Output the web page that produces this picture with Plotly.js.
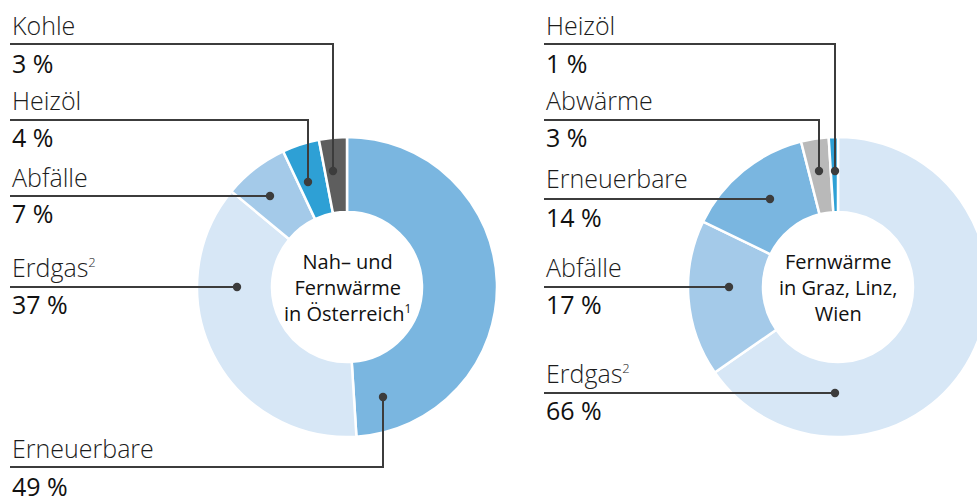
<!DOCTYPE html>
<html><head><meta charset="utf-8">
<script src="https://cdn.plot.ly/plotly-3.0.1.min.js"></script>
<style>html,body{margin:0;padding:0;overflow:hidden;background:#fff}#chart{width:1000px;height:499px}</style>
</head><body><div id="chart"></div>
<script>
// ---- data ----
const leftLabels = ['Erneuerbare', 'Erdgas<sup><span style="font-size:13px">2</span></sup>', 'Abfälle', 'Heizöl', 'Kohle'];
const leftValues = [49, 37, 7, 4, 3];
const leftColors = ['#7ab6e0', '#d7e7f6', '#a4cae9', '#2ea0d5', '#5e5e5e'];
const leftCenter = 'Nah– und<br>Fernwärme<br>in Österreich<sup><span style="font-size:12px">1</span></sup>';

const rightLabels = ['Erdgas<sup><span style="font-size:13px">2</span></sup>', 'Abfälle', 'Erneuerbare', 'Abwärme', 'Heizöl'];
const rightValues = [66, 17, 14, 3, 1];
const rightColors = ['#d7e7f6', '#a4cae9', '#7ab6e0', '#b9b9b9', '#2ea0d5'];
const rightCenter = 'Fernwärme<br>in Graz, Linz,<br>Wien';

// ---- layout geometry (pixels) ----
const W = 1000, H = 499;
const px = x => x / W, py = y => 1 - y / H;
const R = 150;
const leftC = [347, 287], rightC = [838, 287];

// callout config in same order as data: [nameBaseline, valueBaseline, lineY, elbowX, dotX, dotY]
const leftCallouts = [
  [458, 496, 467, 383, 383, 397],
  [277, 314, 287, 237, 237, 287],
  [187, 223, 196, 270, 270, 196],
  [110, 147, 120, 308, 308, 182],
  [35, 73, 44, 333, 333, 171]
];
const rightCallouts = [
  [383, 420, 393, 835, 835, 393],
  [277, 314, 287, 729, 729, 287],
  [188, 227, 199, 770, 770, 199],
  [110, 147, 120, 819, 819, 171],
  [35, 73, 44, 835, 835, 171]
];
const leftTextX = 10, rightTextX = 544;

function pieTrace(labels, values, colors, c) {
  return {
    type: 'pie', labels: labels, values: values, sort: false, direction: 'clockwise', rotation: 0,
    hole: 0.5, textinfo: 'none', hoverinfo: 'label+value',
    marker: {colors: colors, line: {color: '#ffffff', width: 2.5}},
    domain: {x: [px(c[0] - R), px(c[0] + R)], y: [py(c[1] + R), py(c[1] - R)]}
  };
}

const shapes = [], annotations = [];
const lineColor = '#3c3c3c';
const nameFont = {family: 'Open Sans, Segoe UI, sans-serif', size: 25, color: '#1c1c1c', weight: 300};
const valFont = {family: 'Open Sans, Segoe UI, sans-serif', size: 25, color: '#111111', weight: 400};

function addCallouts(labels, values, callouts, textX) {
  callouts.forEach((co, i) => {
    const [nb, vb, ly, ex, dx, dy] = co;
    shapes.push({type: 'path', xref: 'paper', yref: 'paper', layer: 'above',
      path: `M ${px(textX)},${py(ly)} L ${px(ex)},${py(ly)} L ${px(dx)},${py(dy)}`,
      line: {color: lineColor, width: 2}});
    const r = 4.2;
    shapes.push({type: 'circle', xref: 'paper', yref: 'paper', layer: 'above',
      x0: px(dx - r), x1: px(dx + r), y0: py(dy + r), y1: py(dy - r),
      fillcolor: lineColor, line: {width: 0}});
    annotations.push({xref: 'paper', yref: 'paper', x: px(textX), y: py(nb - 10), xanchor: 'left', yanchor: 'middle',
      text: labels[i], showarrow: false, font: nameFont});
    annotations.push({xref: 'paper', yref: 'paper', x: px(textX), y: py(vb - 10), xanchor: 'left', yanchor: 'middle',
      text: values[i] + ' %', showarrow: false, font: valFont});
  });
}
addCallouts(leftLabels, leftValues, leftCallouts, leftTextX);
addCallouts(rightLabels, rightValues, rightCallouts, rightTextX);

const centerFont = {family: 'Open Sans, Segoe UI, sans-serif', size: 20, color: '#111111', weight: 400};
annotations.push({xref: 'paper', yref: 'paper', x: px(leftC[0]), y: py(leftC[1]), xanchor: 'center', yanchor: 'middle',
  text: leftCenter, showarrow: false, font: centerFont, align: 'center'});
annotations.push({xref: 'paper', yref: 'paper', x: px(rightC[0]), y: py(rightC[1]), xanchor: 'center', yanchor: 'middle',
  text: rightCenter, showarrow: false, font: centerFont, align: 'center'});

Plotly.newPlot('chart', [
  pieTrace(leftLabels, leftValues, leftColors, leftC),
  pieTrace(rightLabels, rightValues, rightColors, rightC)
], {
  width: W, height: H, margin: {l: 0, r: 0, t: 0, b: 0}, showlegend: false,
  paper_bgcolor: '#ffffff', plot_bgcolor: '#ffffff',
  shapes: shapes, annotations: annotations
}, {displayModeBar: false, staticPlot: true});
</script></body></html>
